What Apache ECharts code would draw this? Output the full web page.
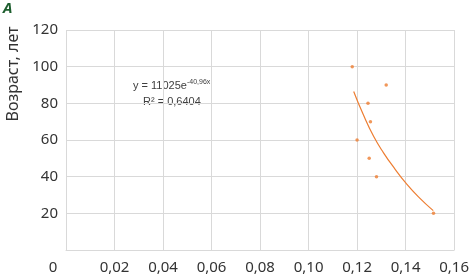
<!DOCTYPE html>
<html>
<head>
<meta charset="utf-8">
<script src="https://cdn.jsdelivr.net/npm/echarts@6/dist/echarts.min.js"></script>
<style>
  html, body { margin: 0; padding: 0; background: #fff; }
  #chart { width: 472px; height: 275px; }
</style>
</head>
<body>
<div id="chart"></div>
<script>
// точки: [x, возраст]
const points = [
  [0.118, 100],
  [0.132, 90],
  [0.1245, 80],
  [0.1255, 70],
  [0.120, 60],
  [0.125, 50],
  [0.128, 40],
  [0.1515, 20]
];
// линия тренда
const trendPoints = [
  [0.1186, 86.5],
  [0.1225, 74],
  [0.1268, 62],
  [0.1309, 53],
  [0.1357, 44],
  [0.1398, 37],
  [0.1453, 29],
  [0.1514, 21.5]
];
const equationText = "y = 11025e";
const equationExp = "-40,96x";
const r2Text = "R² = 0,6404";
const yName = "Возраст, лет";
const panelLetter = "A";

const font = "'Noto Sans', sans-serif";
const eqFont = "'Liberation Sans', sans-serif";
const orange = "#ED7D31";
const gridColor = "#d9d9d9";

const chart = echarts.init(document.getElementById("chart"));
chart.setOption({
  animation: false,
  grid: { left: 66, right: 16, top: 30, bottom: 25, containLabel: false },
  xAxis: {
    type: "value",
    min: 0,
    max: 0.16,
    interval: 0.02,
    axisLine: { show: true, lineStyle: { color: gridColor } },
    axisTick: { show: false },
    splitLine: { show: true, lineStyle: { color: gridColor } },
    axisLabel: {
      margin: 10,
      color: "#333",
      fontFamily: font,
      fontSize: 15,
      formatter: v => v === 0 ? "{z|0}" : v.toFixed(2).replace(".", ","),
      rich: { z: { padding: [0, 26, 0, 0], fontFamily: font, fontSize: 15, color: "#333" } }
    }
  },
  yAxis: {
    type: "value",
    min: 0,
    max: 120,
    interval: 20,
    axisLine: { show: false },
    axisTick: { show: false },
    splitLine: { show: true, lineStyle: { color: gridColor } },
    axisLabel: {
      margin: 8,
      color: "#333",
      fontFamily: font,
      fontSize: 15,
      formatter: v => v === 0 ? "" : String(v)
    }
  },
  graphic: [
    {
      type: "text",
      left: 3,
      top: 1,
      style: { text: panelLetter, font: "italic bold 15px " + font, fill: "#1d5e2e" }
    },
    {
      type: "text",
      x: 13,
      y: 74,
      rotation: Math.PI / 2,
      style: {
        text: yName,
        font: "16px " + font,
        fill: "#333",
        align: "center",
        verticalAlign: "middle"
      }
    },
    {
      type: "text",
      x: 133,
      y: 86,
      style: {
        text: "{b|" + equationText + "}{s|" + equationExp + "}",
        verticalAlign: "middle",
        rich: {
          b: { font: "11px " + eqFont, fill: "#404040", lineHeight: 14 },
          s: { font: "7px " + eqFont, fill: "#404040", verticalAlign: "top", lineHeight: 14, padding: [0, 0, 6, 0] }
        }
      }
    },
    {
      type: "text",
      x: 143,
      y: 102,
      style: { text: r2Text, font: "11px " + eqFont, fill: "#404040", verticalAlign: "middle" }
    }
  ],
  series: [
    {
      type: "line",
      data: trendPoints,
      smooth: true,
      showSymbol: false,
      lineStyle: { color: orange, width: 1.2 },
      z: 2
    },
    {
      type: "scatter",
      data: points,
      symbolSize: 3.5,
      itemStyle: { color: orange },
      z: 3
    }
  ]
});
</script>
</body>
</html>
